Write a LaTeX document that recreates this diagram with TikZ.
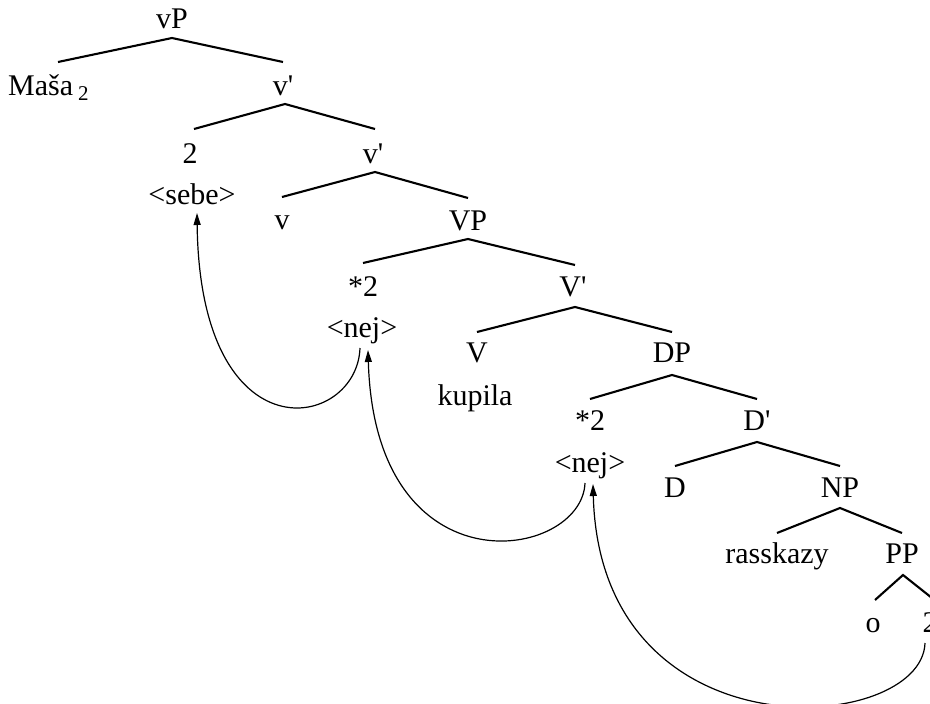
\documentclass[tikz,border=0pt]{standalone}
\usepackage{fontspec}
\setmainfont{Liberation Serif}
\usetikzlibrary{arrows.meta}
\begin{document}
\begin{tikzpicture}[x=1pt,y=-1pt,
  lbl/.style={anchor=base,inner sep=0pt,font=\fontsize{30}{36}\selectfont},
  edge/.style={line width=2.1pt,line join=miter},
  mv/.style={line width=1.2pt,-{Triangle[length=12pt,width=7pt]}}]
\useasboundingbox[fill=white] (0,0) rectangle (930,704);
% nodes
\node[lbl] (vP) at (172,28) {vP};
\node[lbl,anchor=base west] (Masa) at (8,95) {Maša\,\textsubscript{2}};
\node[lbl] (vb1) at (283,95) {v\textquotesingle};
\node[lbl] (two1) at (190,163) {2};
\node[lbl] (vb2) at (373,163) {v\textquotesingle};
\node[lbl] (sebe) at (192,204) {<sebe>};
\node[lbl] (v) at (282,229) {v};
\node[lbl] (VP) at (468,230) {VP};
\node[lbl] (st1) at (363,296) {*2};
\node[lbl] (Vb) at (573,296) {V\textquotesingle};
\node[lbl] (nej1) at (362,337) {<nej>};
\node[lbl] (V) at (477,362) {V};
\node[lbl] (DP) at (672,362) {DP};
\node[lbl] (kupila) at (475,405) {kupila};
\node[lbl] (st2) at (590,430) {*2};
\node[lbl] (Db) at (757,430) {D\textquotesingle};
\node[lbl] (nej2) at (590,472) {<nej>};
\node[lbl] (D) at (675,497) {D};
\node[lbl] (NP) at (840,497) {NP};
\node[lbl] (rass) at (777,563) {rasskazy};
\node[lbl] (PP) at (902,563) {PP};
\node[lbl] (o) at (873,632) {o};
\node[lbl] (two2) at (930,632) {2};
% tree edges
\draw[edge] ([xshift=50pt,yshift=33pt]Masa.base west) -- ([yshift=-10pt]vP.base) -- ([yshift=33pt]vb1.base);
\draw[edge] ([xshift=4pt,yshift=34pt]two1.base) -- ([xshift=2pt,yshift=-9pt]vb1.base) -- ([xshift=2pt,yshift=34pt]vb2.base);
\draw[edge] ([yshift=32pt]v.base) -- ([xshift=2pt,yshift=-9pt]vb2.base) -- ([yshift=32pt]VP.base);
\draw[edge] ([yshift=33pt]st1.base) -- ([yshift=-9pt]VP.base) -- ([xshift=2pt,yshift=31pt]Vb.base);
\draw[edge] ([yshift=30pt]V.base) -- ([xshift=2pt,yshift=-11pt]Vb.base) -- ([yshift=30pt]DP.base);
\draw[edge] ([yshift=31pt]st2.base) -- ([yshift=-13pt]DP.base) -- ([yshift=31pt]Db.base);
\draw[edge] ([yshift=31pt]D.base) -- ([yshift=-12pt]Db.base) -- ([yshift=31pt]NP.base);
\draw[edge] ([yshift=30pt]rass.base) -- ([yshift=-11pt]NP.base) -- ([yshift=30pt]PP.base);
\draw[edge] ([xshift=2pt,yshift=32pt]o.base) -- ([xshift=1pt,yshift=-12pt]PP.base) -- ([xshift=2pt,yshift=34pt]two2.base);
% movement arrows
\draw[mv] ([xshift=-2pt,yshift=-11pt]nej1.base) .. controls (357,430) and (200,460) .. ([xshift=5pt,yshift=-9pt]sebe.base);
\draw[mv] ([xshift=-5pt,yshift=-11pt]nej2.base) .. controls (582,560) and (375,595) .. ([xshift=6pt,yshift=-13pt]nej1.base);
\draw[mv] ([xshift=-5pt,yshift=-11pt]two2.base) .. controls (922,735) and (600,760) .. ([xshift=3pt,yshift=-12pt]nej2.base);
\end{tikzpicture}
\end{document}
